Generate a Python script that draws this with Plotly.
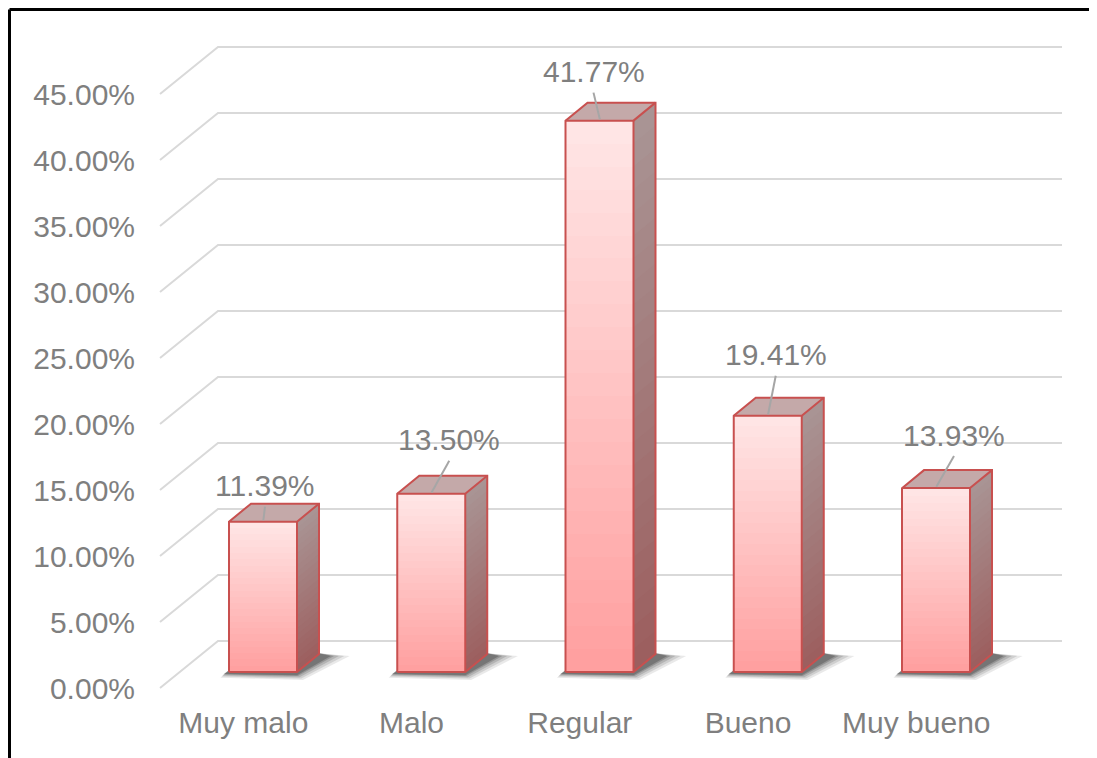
import plotly.graph_objects as go

# ---------------- data ----------------
categories = ["Muy malo", "Malo", "Regular", "Bueno", "Muy bueno"]
values = [11.39, 13.50, 41.77, 19.41, 13.93]
value_labels = ["11.39%", "13.50%", "41.77%", "19.41%", "13.93%"]
tick_values = [0, 5, 10, 15, 20, 25, 30, 35, 40, 45]
tick_labels = ["0.00%", "5.00%", "10.00%", "15.00%", "20.00%",
               "25.00%", "30.00%", "35.00%", "40.00%", "45.00%"]

# ---------------- style / geometry ----------------
W, H = 1097, 758
OFF = 8                                   # page body margin
PL, PR, PT, PB = 150, 1080, 20, 692       # plot area in window pixels
ML, MT = PL - OFF, PT - OFF
MR, MB = W - (PR - OFF), H - (PB - OFF)
PX_X = 168.25          # pixels per category step
PX_Y = 13.2            # pixels per percent
X0_PX = 263            # pixel of first bar centre
Y0_PX = 672            # pixel of zero on bar front plane
HW = 34 / PX_X         # half bar width
BDX, BDY = 22 / PX_X, 18 / PX_Y          # bar depth
FDX, FDY = -19.7 / PX_X, -16 / PX_Y      # front floor edge offset
TDX, TDY = 58 / PX_X, 47 / PX_Y          # full floor depth
GX0 = (160 - X0_PX) / PX_X               # left of floor front
GX1 = (1062 - X0_PX) / PX_X              # right end of back wall grid
N_SEG = 24
FS = 30

label_dx_px = [2, 18, -6, 8, 18]
label_dy_px = [36, 54, 49, 61, 53]

xr = [(PL - X0_PX) / PX_X, (PR - X0_PX) / PX_X]
yr = [(Y0_PX - PB) / PX_Y, (Y0_PX - PT) / PX_Y]

TEXT = "#7F7F7F"
FONT = "Liberation Sans, Arial, sans-serif"


def lerp_color(c0, c1, t):
    a = [int(c0[i:i + 2], 16) for i in (1, 3, 5)]
    b = [int(c1[i:i + 2], 16) for i in (1, 3, 5)]
    return "rgb(%d,%d,%d)" % tuple(round(a[k] + (b[k] - a[k]) * t) for k in range(3))


xs = list(range(len(categories)))
fig = go.Figure()
shapes = []

# back-wall gridlines with floor diagonals
for v in tick_values:
    yf = v + FDY
    shapes.append(dict(
        type="path", layer="below",
        path=f"M {GX0},{yf} L {GX0 + TDX},{yf + TDY} L {GX1},{yf + TDY}",
        line=dict(color="#D9D9D9", width=2)))

# soft shadows under bars
for x in xs:
    for grow, op in [(0.07, 0.10), (0.05, 0.13), (0.03, 0.17), (0.012, 0.22), (0.0, 0.28)]:
        p = [(x - HW - 0.03 - grow * 0.3, -0.15 - grow * 4),
             (x + HW + grow * 0.5, -0.25 - grow * 5),
             (x + HW + BDX + 0.07 + grow * 1.6, BDY - 0.15),
             (x + HW + BDX, BDY + 0.05),
             (x - HW + BDX, BDY + 0.05)]
        path = "M " + " L ".join(f"{a},{b}" for a, b in p) + " Z"
        shapes.append(dict(type="path", layer="below", path=path,
                           fillcolor=f"rgba(40,40,40,{op})", line=dict(width=0)))

# front faces: stacked gradient segments
for k in range(N_SEG):
    col = lerp_color("#FFA0A0", "#FFE5E5", k / (N_SEG - 1))
    fig.add_trace(go.Bar(
        x=xs, y=[v / N_SEG for v in values], width=2 * HW,
        marker=dict(color=col, line=dict(width=0)),
        hoverinfo="skip", showlegend=False))

# side faces: gradient segments (drawn bottom-up, overlapping to hide seams)
for k in range(N_SEG):
    col = lerp_color("#9C5F5F", "#A99494", k / (N_SEG - 1))
    px, py = [], []
    for x, v in zip(xs, values):
        y0 = v * k / N_SEG
        y1 = min(v, v * (k + 1) / N_SEG + 0.2)
        px += [x + HW, x + HW, x + HW + BDX, x + HW + BDX, x + HW, None]
        py += [y0, y1, y1 + BDY, y0 + BDY, y0, None]
    fig.add_trace(go.Scatter(x=px, y=py, mode="lines", fill="toself",
                             fillcolor=col, line=dict(width=0),
                             hoverinfo="skip", showlegend=False))

# top faces
px, py = [], []
for x, v in zip(xs, values):
    px += [x - HW, x + HW, x + HW + BDX, x - HW + BDX, x - HW, None]
    py += [v, v, v + BDY, v + BDY, v, None]
fig.add_trace(go.Scatter(x=px, y=py, mode="lines", fill="toself",
                         fillcolor="#C4A9A9", line=dict(width=0),
                         hoverinfo="skip", showlegend=False))

# outlines
px, py = [], []
for x, v in zip(xs, values):
    px += [x - HW, x + HW, x + HW + BDX, x + HW + BDX, x - HW + BDX, x - HW, x - HW, None,
           x - HW, x + HW, x + HW + BDX, None, x + HW, x + HW, None]
    py += [0, 0, BDY, v + BDY, v + BDY, v, 0, None,
           v, v, v + BDY, None, v, 0, None]
fig.add_trace(go.Scatter(x=px, y=py, mode="lines",
                         line=dict(color="#C8504F", width=2),
                         hoverinfo="skip", showlegend=False))

# leader lines
px, py = [], []
for x, v, dx, dy in zip(xs, values, label_dx_px, label_dy_px):
    px += [x + 0.002, x + dx / PX_X, None]
    py += [v + 0.1, v + (dy - 21) / PX_Y, None]
fig.add_trace(go.Scatter(x=px, y=py, mode="lines",
                         line=dict(color="#A6A6A6", width=2),
                         hoverinfo="skip", showlegend=False))

annotations = []
for x, v, t, dx, dy in zip(xs, values, value_labels, label_dx_px, label_dy_px):
    annotations.append(dict(x=x + dx / PX_X, y=v + dy / PX_Y, text=t,
                            showarrow=False, xanchor="center", yanchor="middle",
                            font=dict(size=FS, color=TEXT, family=FONT)))

# frame (black border at top-left of the picture)
bx = (9.5 - PL) / (PR - PL)
by = (PB - 9.5) / (PB - PT)
shapes.append(dict(type="line", xref="paper", yref="paper", x0=bx, x1=1.2, y0=by, y1=by,
                   line=dict(color="black", width=3), layer="above"))
shapes.append(dict(type="line", xref="paper", yref="paper", x0=bx, x1=bx, y0=by, y1=-0.2,
                   line=dict(color="black", width=3), layer="above"))

fig.update_layout(
    width=W, height=H,
    margin=dict(l=ML, r=MR, t=MT, b=MB),
    paper_bgcolor="white", plot_bgcolor="white",
    barmode="stack", bargap=0,
    showlegend=False,
    shapes=shapes, annotations=annotations,
    font=dict(family=FONT, size=FS, color=TEXT),
    xaxis=dict(range=xr, showgrid=False, zeroline=False, showline=False,
               tickmode="array", tickvals=[x + FDX for x in xs], ticktext=categories,
               ticks="outside", ticklen=4, tickcolor="rgba(0,0,0,0)",
               tickfont=dict(size=FS, color=TEXT, family=FONT)),
    yaxis=dict(range=yr, showgrid=False, zeroline=False, showline=False,
               tickmode="array", tickvals=[v + FDY for v in tick_values], ticktext=tick_labels,
               ticks="outside", ticklen=8, tickcolor="rgba(0,0,0,0)",
               tickfont=dict(size=FS, color=TEXT, family=FONT)),
)

fig.write_html("out.html")
